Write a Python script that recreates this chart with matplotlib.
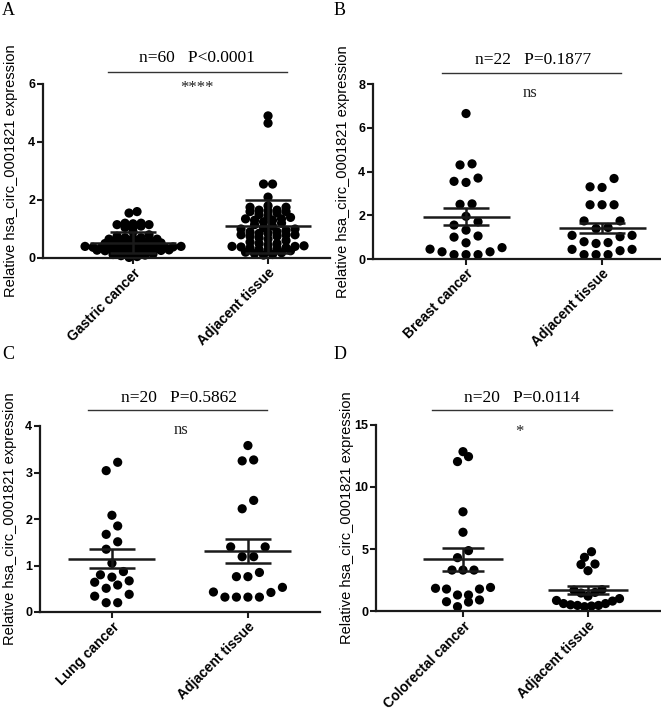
import numpy as np
import matplotlib
matplotlib.use("Agg")
import matplotlib.pyplot as plt

plt.rcParams['font.family'] = ['Liberation Sans', 'DejaVu Sans']

# ---------------- data ----------------
categories_A = ["Gastric cancer", "Adjacent tissue"]
categories_B = ["Breast cancer", "Adjacent tissue"]
categories_C = ["Lung cancer", "Adjacent tissue"]
categories_D = ["Colorectal cancer", "Adjacent tissue"]

gastric_cancer = [1.6, 1.55, 1.2, 1.2, 1.18, 1.15, 1.15, 1.1, 1.05, 1.05,
                  0.9, 0.8, 0.75, 0.7, 0.7, 0.68, 0.65, 0.65, 0.62, 0.6,
                  0.6, 0.58, 0.55, 0.52, 0.5, 0.5, 0.48, 0.47, 0.45, 0.44,
                  0.42, 0.4, 0.4, 0.38, 0.37, 0.36, 0.35, 0.34, 0.33, 0.32,
                  0.31, 0.3, 0.3, 0.29, 0.28, 0.27, 0.26, 0.25, 0.24, 0.23,
                  0.22, 0.2, 0.18, 0.16, 0.14, 0.12, 0.1, 0.08, 0.05, 0.02]
gastric_adjacent = [4.9, 4.65, 2.55, 2.55, 2.1, 1.8, 1.75, 1.75, 1.65, 1.65,
                    1.62, 1.6, 1.6, 1.55, 1.5, 1.45, 1.4, 1.35, 1.35, 1.3,
                    1.3, 1.25, 1.2, 1.15, 1.1, 1.05, 1.0, 1.0, 0.95, 0.9,
                    0.9, 0.85, 0.85, 0.8, 0.8, 0.8, 0.75, 0.75, 0.7, 0.65,
                    0.6, 0.55, 0.5, 0.5, 0.45, 0.42, 0.4, 0.4, 0.38, 0.36,
                    0.35, 0.33, 0.3, 0.28, 0.25, 0.2, 0.18, 0.15, 0.12, 0.1]

breast_cancer = [6.65, 4.35, 4.3, 3.7, 3.55, 3.5, 2.52, 2.5, 1.95, 1.7, 1.55,
                 1.32, 1.05, 1.0, 0.74, 0.52, 0.33, 0.2, 0.2, 0.2, 0.33, 0.45]
breast_adjacent = [3.68, 3.3, 3.27, 2.48, 2.48, 2.48, 1.74, 1.74, 1.44, 1.39,
                   1.08, 1.08, 1.02, 0.79, 0.75, 0.71, 0.44, 0.44, 0.38,
                   0.2, 0.2, 0.2]

lung_cancer = [3.22, 3.04, 2.08, 1.85, 1.67, 1.51, 1.35, 1.05, 0.87, 0.8,
               0.75, 0.67, 0.64, 0.58, 0.51, 0.38, 0.34, 0.2, 0.2]
lung_adjacent = [3.58, 3.27, 3.25, 2.4, 2.22, 1.40, 1.40, 1.19, 1.19, 0.85,
                 0.76, 0.76, 0.53, 0.43, 0.42, 0.32, 0.32, 0.32, 0.32]

colorectal_cancer = [12.85, 12.45, 12.05, 8.0, 6.35, 4.87, 4.3, 3.3, 3.3, 3.3,
                     1.83, 1.77, 1.77, 1.9, 1.29, 1.29, 0.89, 0.75, 0.72, 0.35]
colorectal_adjacent = [4.78, 4.33, 3.79, 3.75, 3.25, 1.72, 1.68, 1.5, 1.45,
                       1.2, 1.0, 0.8, 0.6, 0.5, 0.45, 0.4, 0.35, 0.45, 0.6, 0.85]

titles = ["n=60   P<0.0001", "n=22   P=0.1877", "n=20   P=0.5862", "n=20   P=0.0114"]
signif = ["****", "ns", "ns", "*"]
panel_letters = ["A", "B", "C", "D"]
yticks_A = [0, 2, 4, 6]
yticks_B = [0, 2, 4, 6, 8]
yticks_C = [0, 1, 2, 3, 4]
yticks_D = [0, 5, 10, 15]
ylabel = "Relative hsa_circ_0001821 expression"

# ---------------- layout ----------------
W, H = 661, 711
fig = plt.figure(figsize=(W / 100, H / 100), dpi=100)


def px_rect(l, t, r, b):
    return [l / W, 1 - b / H, (r - l) / W, (b - t) / H]


panels = [
    dict(rect=px_rect(43, 84, 330, 258), xlim=(-0.667, 1.459), ylim=(0, 6),
         yticks=yticks_A, cats=categories_A, data=[gastric_cancer, gastric_adjacent],
         err="sd", grp=[3.5, 4.5], sp=[8.0, 9.0], line=(-0.185, 1.14), txt_x=0.47, sig_x=0.47,
         line_y=1.069, txt_y=1.15, sig_y=0.975, ylab_x=-0.087,
         letter=(2, 2)),
    dict(rect=px_rect(373, 84, 660, 259), xlim=(-0.684, 1.426), ylim=(0, 8),
         yticks=yticks_B, cats=categories_B, data=[breast_cancer, breast_adjacent],
         err="sem", grp=[10.0, 10.0], sp=[12.0, 12.0], line=(-0.176, 1.14), txt_x=0.49, sig_x=0.47,
         line_y=1.065, txt_y=1.14, sig_y=0.95, ylab_x=-0.079,
         letter=(334, 2)),
    dict(rect=px_rect(40, 426, 320, 612), xlim=(-0.529, 1.53), ylim=(0, 4),
         yticks=yticks_C, cats=categories_C, data=[lung_cancer, lung_adjacent],
         err="sem", grp=[10.0, 10.0], sp=[11.5, 11.5], line=(-0.176, 1.14), txt_x=0.49, sig_x=0.51,
         line_y=1.086, txt_y=1.15, sig_y=0.978, ylab_x=-0.081,
         letter=(2, 346)),
    dict(rect=px_rect(376, 425, 660, 611), xlim=(-0.696, 1.576), ylim=(0, 15),
         yticks=yticks_D, cats=categories_D, data=[colorectal_cancer, colorectal_adjacent],
         err="sem", grp=[9.0, 9.0], sp=[11.0, 7.0], line=(-0.248, 1.192), txt_x=0.47, sig_x=0.448,
         line_y=1.081, txt_y=1.145, sig_y=0.965, ylab_x=-0.078,
         letter=(334, 346)),
]


def row_swarm(ypx, grp, sp):
    """GraphPad-like scatter: group close values into rows, centre each row,
    lowest values in the middle, higher ones outward."""
    ypx = np.asarray(ypx, float)
    order = np.argsort(ypx, kind="stable")
    offs = np.zeros(len(ypx))
    groups, cur, start = [], [], None
    for i in order:
        if cur and ypx[i] - start > grp:
            groups.append(cur)
            cur = []
        if not cur:
            start = ypx[i]
        cur.append(i)
    if cur:
        groups.append(cur)
    for g in groups:
        n = len(g)
        slots = [(j - (n - 1) / 2.0) * sp for j in range(n)]
        slots = sorted(slots, key=lambda v: (round(abs(v), 6), v))
        for idx, s in zip(g, slots):
            offs[idx] = s
    return offs


serif = ['Liberation Serif', 'DejaVu Serif']

for k, p in enumerate(panels):
    ax = fig.add_axes(p["rect"])
    ax.set_xlim(*p["xlim"])
    ax.set_ylim(*p["ylim"])
    for s in ["top", "right"]:
        ax.spines[s].set_visible(False)
    for s in ["left", "bottom"]:
        ax.spines[s].set_linewidth(1.6)
        ax.spines[s].set_color("#1a1a1a")
    ax.set_yticks(p["yticks"])
    ax.set_yticklabels([str(t) for t in p["yticks"]], fontsize=9, fontweight="bold")
    ax.set_xticks([0, 1])
    ax.set_xticklabels(p["cats"], rotation=45, ha="right", va="top",
                       rotation_mode="anchor", fontsize=10, fontweight="bold")
    ax.tick_params(axis="both", direction="out", length=4, width=1.5,
                   color="#1a1a1a", pad=1.5)
    ax.set_ylabel(ylabel, fontsize=10.5)
    ax.yaxis.set_label_coords(p["ylab_x"], 0.5)

    x0p = ax.transData.transform((0, 0))[0]
    x1p = ax.transData.transform((1, 0))[0]
    ppu = x1p - x0p
    for c, vals in enumerate(p["data"]):
        vals = np.asarray(vals, float)
        ypx = ax.transData.transform(np.column_stack([np.zeros_like(vals), vals]))[:, 1]
        offs = row_swarm(ypx, p["grp"][c], p["sp"][c]) / ppu
        ax.scatter(c + offs, vals, s=44, color="black", edgecolors="none",
                   zorder=2, clip_on=False)
        m = vals.mean()
        if p["err"] == "sd":
            e = vals.std(ddof=1)
        else:
            e = vals.std(ddof=1) / np.sqrt(len(vals))
        ax.hlines(m, c - 0.32, c + 0.32, color="#1a1a1a", lw=1.8, zorder=3)
        ax.vlines(c, m - e, m + e, color="#1a1a1a", lw=1.8, zorder=3)
        ax.hlines([m - e, m + e], c - 0.17, c + 0.17, color="#1a1a1a", lw=1.8, zorder=3)

    tr = ax.get_xaxis_transform()
    ax.plot(list(p["line"]), [p["line_y"]] * 2, color="#333333", lw=1.0,
            transform=tr, clip_on=False)
    ax.text(p["txt_x"], p["txt_y"], titles[k], transform=tr, ha="center",
            va="center", fontsize=12.5, family=serif)
    ax.text(p["sig_x"], p["sig_y"], signif[k], transform=tr, ha="center",
            va="center", fontsize=12, family=serif, color="#222222")

    fig.text(p["letter"][0] / W, 1 - p["letter"][1] / H, panel_letters[k],
             ha="left", va="top", fontsize=13, family=serif)

fig.savefig("out.png", dpi=100)
